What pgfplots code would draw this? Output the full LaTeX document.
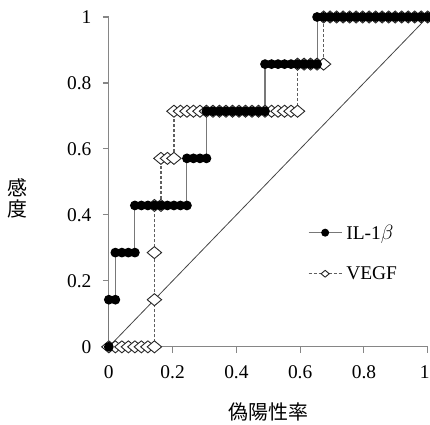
\documentclass[border=0pt]{standalone}
\usepackage{pgfplots}
\pgfplotsset{compat=1.18}
\usepackage{fontspec}
\setmainfont{Liberation Serif}
\newfontfamily\jp{Noto Sans CJK JP}

\definecolor{axgray}{RGB}{134,134,134}
\definecolor{linegray}{RGB}{120,120,120}
\definecolor{dashgray}{RGB}{95,95,95}
\definecolor{diaggray}{RGB}{70,70,70}

% ROC curve points (false positive rate, sensitivity)
\pgfplotstableread{
x y
0.0000 0.0000
0.0000 0.1429
0.0204 0.1429
0.0204 0.2857
0.0408 0.2857
0.0612 0.2857
0.0816 0.2857
0.0816 0.4286
0.1020 0.4286
0.1224 0.4286
0.1429 0.4286
0.1633 0.4286
0.1837 0.4286
0.2041 0.4286
0.2245 0.4286
0.2449 0.4286
0.2449 0.5714
0.2653 0.5714
0.2857 0.5714
0.3061 0.5714
0.3061 0.7143
0.3265 0.7143
0.3469 0.7143
0.3673 0.7143
0.3878 0.7143
0.4082 0.7143
0.4286 0.7143
0.4490 0.7143
0.4694 0.7143
0.4898 0.7143
0.4898 0.8571
0.5102 0.8571
0.5306 0.8571
0.5510 0.8571
0.5714 0.8571
0.5918 0.8571
0.6122 0.8571
0.6327 0.8571
0.6531 0.8571
0.6531 1.0000
0.6735 1.0000
0.6939 1.0000
0.7143 1.0000
0.7347 1.0000
0.7551 1.0000
0.7755 1.0000
0.7959 1.0000
0.8163 1.0000
0.8367 1.0000
0.8571 1.0000
0.8776 1.0000
0.8980 1.0000
0.9184 1.0000
0.9388 1.0000
0.9592 1.0000
0.9796 1.0000
1.0000 1.0000
}\ilb

\pgfplotstableread{
x y
0.0000 0.0000
0.0204 0.0000
0.0408 0.0000
0.0612 0.0000
0.0816 0.0000
0.1020 0.0000
0.1224 0.0000
0.1429 0.0000
0.1429 0.1429
0.1429 0.2857
0.1429 0.4286
0.1633 0.4286
0.1633 0.5714
0.1837 0.5714
0.2041 0.5714
0.2041 0.7143
0.2245 0.7143
0.2449 0.7143
0.2653 0.7143
0.2857 0.7143
0.3061 0.7143
0.3265 0.7143
0.3469 0.7143
0.3673 0.7143
0.3878 0.7143
0.4082 0.7143
0.4286 0.7143
0.4490 0.7143
0.4694 0.7143
0.4898 0.7143
0.5102 0.7143
0.5306 0.7143
0.5510 0.7143
0.5714 0.7143
0.5918 0.7143
0.5918 0.8571
0.6122 0.8571
0.6327 0.8571
0.6531 0.8571
0.6735 0.8571
0.6735 1.0000
0.6939 1.0000
0.7143 1.0000
0.7347 1.0000
0.7551 1.0000
0.7755 1.0000
0.7959 1.0000
0.8163 1.0000
0.8367 1.0000
0.8571 1.0000
0.8776 1.0000
0.8980 1.0000
0.9184 1.0000
0.9388 1.0000
0.9592 1.0000
0.9796 1.0000
1.0000 1.0000
}\vegf

\begin{document}
\begin{tikzpicture}
\begin{axis}[
  name=ax,
  scale only axis,
  width=319bp, height=330bp,
  xmin=0, xmax=1, ymin=0, ymax=1,
  clip=false,
  axis x line*=bottom, axis y line*=left,
  axis line style={draw=axgray, line width=1.1bp},
  xtick={0,0.2,0.4,0.6,0.8,1},
  ytick={0,0.2,0.4,0.6,0.8,1},
  xticklabels={0,0.2,0.4,0.6,0.8,\hspace*{-6bp}1},
  yticklabels={0,0.2,0.4,0.6,0.8,1},
  tick align=outside,
  major tick length=6bp,
  tick style={draw=axgray, line width=1.1bp},
  tick label style={font=\rmfamily\fontsize{19.5}{22}\selectfont, text=black},
  xticklabel style={yshift=-9bp},
  yticklabel style={xshift=-8bp},
  xlabel={\jp 偽陽性率},
  xlabel style={font=\fontsize{20}{22}\selectfont, at={(axis description cs:0.5,0)}, anchor=center, yshift=-65bp},
  ylabel={\jp 感\\\jp 度},
  ylabel style={font=\fontsize{20}{21}\selectfont, align=center, rotate=-90, at={(axis description cs:0,0.45)}, anchor=center, xshift=-91bp},
  reverse legend,
  legend cell align=left,
  legend style={draw=none, fill=none, inner sep=0pt,
    at={(axis description cs:0.624,0.285)}, anchor=west,
    font=\fontsize{19.5}{22}\selectfont, row sep=22bp,
    nodes={inner xsep=4bp}},
  legend image code/.code={
    \draw[#1, mark=none] (0bp,0bp) -- (33bp,0bp);
    \draw[#1, only marks, mark size=3.4bp] plot coordinates {(16.5bp,0bp)};
  },
]
% chance line
\addplot[diaggray, line width=0.8bp, mark=none, forget plot] coordinates {(0,0) (1,1)};
% VEGF
\addplot[dashgray, line width=1.3bp, dash pattern=on 3bp off 2bp,
  mark=diamond*, mark size=6bp,
  mark options={solid, xscale=1.6, draw=black!85, fill=white, line width=0.9bp}]
  table[x=x, y=y] {\vegf};
\addlegendentry{VEGF}
% IL-1beta
\addplot[linegray, line width=1.1bp,
  mark=*, mark size=4.3bp,
  mark options={draw=black, fill=black}]
  table[x=x, y=y] {\ilb};
\addlegendentry{IL-1$\beta$}
\end{axis}
\pgfresetboundingbox
\path ([shift={(-108.9bp,-78bp)}]ax.south west) rectangle ([shift={(2.3bp,17bp)}]ax.north east);
\end{tikzpicture}
\end{document}
